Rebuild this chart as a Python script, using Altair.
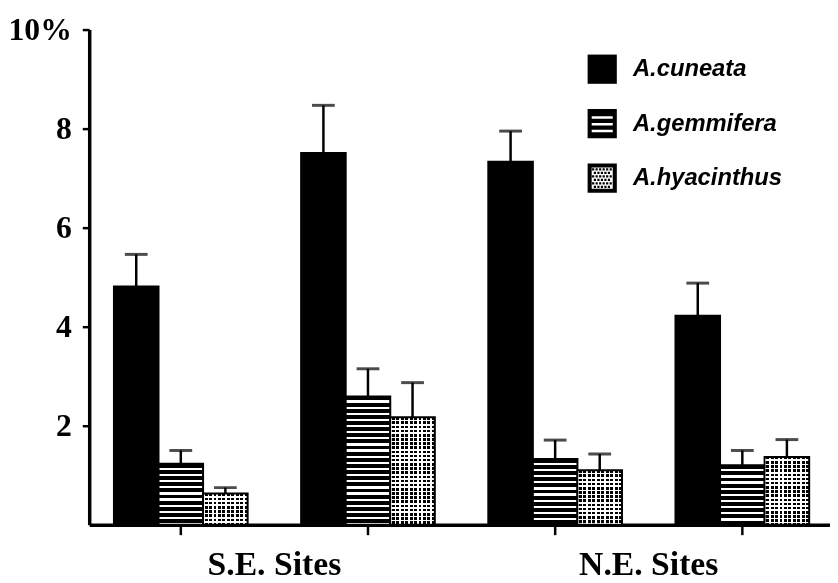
import altair as alt
import pandas as pd
import math

# ---------------- data ----------------
groups = ["S.E. 1", "S.E. 2", "N.E. 1", "N.E. 2"]
regions = ["S.E. Sites", "N.E. Sites"]
species = ["A.cuneata", "A.gemmifera", "A.hyacinthus"]
cuneata_mean = [4.81, 7.51, 7.33, 4.22]
cuneata_se = [0.65, 0.96, 0.62, 0.66]
gemmifera_mean = [1.23, 2.59, 1.33, 1.20]
gemmifera_se = [0.27, 0.56, 0.38, 0.30]
hyacinthus_mean = [0.63, 2.17, 1.10, 1.37]
hyacinthus_se = [0.12, 0.70, 0.33, 0.35]
y_ticks = [2, 4, 6, 8, 10]
y_max = 10

rows = []
for sp, means, ses in zip(species,
                          [cuneata_mean, gemmifera_mean, hyacinthus_mean],
                          [cuneata_se, gemmifera_se, hyacinthus_se]):
    for g, m, s in zip(groups, means, ses):
        rows.append({"group": g, "species": sp, "mean": m, "se": s})
df = pd.DataFrame(rows)

# ---------------- layout / style ----------------
W, H = 748, 500
PPU = H / y_max  # pixels per unit on y
SERIF = "Liberation Serif"
SANS = "Liberation Sans"


def hstripe_expr(dark, light, field="mean"):
    """Per-bar gradient giving horizontal stripes of constant pixel period."""
    top = max(gemmifera_mean + hyacinthus_mean) * PPU
    n = int(math.ceil(top / (dark + light))) + 2
    h = f"(datum['{field}']*{PPU})"
    stops = ["{offset:0,color:'black'}"]
    d = 0.0
    for _ in range(n):
        a = d + dark
        b = a + light
        stops.append(f"{{offset:min(1,{a:.2f}/{h}),color:'black'}}")
        stops.append(f"{{offset:min(1,{a:.2f}/{h}),color:'white'}}")
        stops.append(f"{{offset:min(1,{b:.2f}/{h}),color:'white'}}")
        stops.append(f"{{offset:min(1,{b:.2f}/{h}),color:'black'}}")
        d = b
    stops.append("{offset:1,color:'black'}")
    return ("{gradient:'linear',x1:0,y1:0,x2:0,y2:1,stops:["
            + ",".join(stops) + "]}")


def vstripe_gradient(ncols, dark_frac):
    stops = []
    for k in range(ncols):
        s = k / ncols
        m = (k + (1 - dark_frac)) / ncols
        e = (k + 1) / ncols
        stops += [alt.GradientStop(color="white", offset=s),
                  alt.GradientStop(color="white", offset=m),
                  alt.GradientStop(color="black", offset=m),
                  alt.GradientStop(color="black", offset=e)]
    return alt.LinearGradient(gradient="linear", stops=stops,
                              x1=0, x2=1, y1=0, y2=0)


def rect_cw(x0, y0, x1, y1):
    return f"M{x0:.3f},{y0:.3f}H{x1:.3f}V{y1:.3f}H{x0:.3f}Z"


def rect_ccw(x0, y0, x1, y1):
    return f"M{x0:.3f},{y0:.3f}V{y1:.3f}H{x1:.3f}V{y0:.3f}Z"


sym_solid = rect_cw(-1, -1, 1, 1)
sym_stripes = rect_cw(-1, -1, 1, 1) + "".join(
    rect_ccw(-0.72, yc - 0.08, 0.72, yc + 0.08) for yc in [-0.42, 0.04, 0.5])
dots = []
for i in range(6):
    yc = -0.6 + i * 0.24
    for j in range(7):
        xc = -0.62 + j * 0.24 + (0.12 if i % 2 else 0)
        if -0.64 <= xc <= 0.64:
            dots.append(rect_cw(xc - 0.075, yc - 0.075, xc + 0.075, yc + 0.075))
sym_dots = rect_cw(-1, -1, 1, 1) + rect_ccw(-0.72, -0.72, 0.72, 0.72) + "".join(dots)

# ---------------- encodings ----------------
x_label_expr = (f"datum.value == '{groups[0]}' ? '{regions[0]}' : "
                f"datum.value == '{groups[2]}' ? '{regions[1]}' : ''")
x_enc = alt.X(
    "group:N", sort=groups,
    scale=alt.Scale(domain=groups, paddingInner=0.2857, paddingOuter=0.1217, align=0.543),
    axis=alt.Axis(title=None, labelExpr=x_label_expr, labelOffset=94.5, labelAngle=0,
                  labelAlign="center", labelBaseline="alphabetic", labelPadding=40,
                  labelFont=SERIF, labelFontSize=34, labelFontWeight="bold",
                  labelColor="black", labelOverlap=False, labelBound=False, labelFlush=False,
                  domainColor="black", domainWidth=3.5, tickColor="black", tickWidth=2.5,
                  tickSize=10, grid=False),
)
xo_enc = alt.XOffset("species:N", sort=species,
                     scale=alt.Scale(domain=species, paddingInner=0, paddingOuter=0))
y_scale = alt.Scale(domain=[0, y_max], nice=False, zero=True)
y_axis = alt.Axis(title=None, values=y_ticks,
                  labelExpr=f"datum.value == {y_ticks[-1]} ? datum.label + '%' : datum.label",
                  labelFont=SERIF, labelFontSize=32, labelFontWeight="bold",
                  labelColor="black", labelPadding=11,
                  domainColor="black", domainWidth=3.5, tickColor="black", tickWidth=2.5,
                  tickSize=7, grid=False)
y_mean = alt.Y("mean:Q", scale=y_scale, axis=y_axis)
y_upper = alt.Y("upper:Q", scale=y_scale, axis=y_axis)

base = alt.Chart(df)

legend_layer = base.mark_point(filled=True, opacity=0, color="black").encode(
    x=x_enc, xOffset=xo_enc, y=y_mean,
    shape=alt.Shape("species:N", sort=species,
                    scale=alt.Scale(domain=species, range=[sym_solid, sym_stripes, sym_dots]),
                    legend=alt.Legend(title=None, orient="none", legendX=503, legendY=25,
                                      symbolSize=870, symbolFillColor="black",
                                      symbolStrokeColor="black", symbolStrokeWidth=0,
                                      symbolOpacity=1, labelFont=SANS, labelFontSize=24,
                                      labelFontStyle="italic", labelFontWeight="bold",
                                      labelColor="black", labelOffset=16, rowPadding=25,
                                      padding=0, labelLimit=400)),
)

bars_c = base.transform_filter(alt.datum.species == species[0]).mark_bar(
    fill="black", stroke="black", strokeWidth=2).encode(x=x_enc, xOffset=xo_enc, y=y_mean)

bars_g = base.transform_filter(alt.datum.species == species[1]).mark_bar(
    fill=alt.ExprRef(expr=hstripe_expr(3.9, 2.3)), stroke="black", strokeWidth=2
).encode(x=x_enc, xOffset=xo_enc, y=y_mean)

bars_h_base = base.transform_filter(alt.datum.species == species[2]).mark_bar(
    fill=alt.ExprRef(expr=hstripe_expr(2.6, 1.6)), stroke="black", strokeWidth=2
).encode(x=x_enc, xOffset=xo_enc, y=y_mean)

bars_h_top = base.transform_filter(alt.datum.species == species[2]).mark_bar(
    fill=vstripe_gradient(10, 0.65), stroke="black", strokeWidth=2, blend="screen"
).encode(x=x_enc, xOffset=xo_enc, y=y_mean)

err = base.transform_calculate(upper="datum.mean + datum.se")
stems = err.mark_rule(color="black", strokeWidth=2.5).encode(
    x=x_enc, xOffset=xo_enc, y=y_mean, y2="upper:Q")
caps = err.mark_tick(color="black", thickness=3, size=23).encode(
    x=x_enc, xOffset=xo_enc, y=y_upper)

chart = alt.layer(
    legend_layer, bars_c, bars_g, bars_h_base, bars_h_top, stems, caps
).properties(
    width=W, height=H,
    autosize=alt.AutoSizeParams(type="none"),
    padding={"left": 82, "top": 19, "right": 0, "bottom": 54},
).configure(background="white").configure_view(stroke=None)

chart.save("out.html", embed_options={"renderer": "svg", "actions": False})
